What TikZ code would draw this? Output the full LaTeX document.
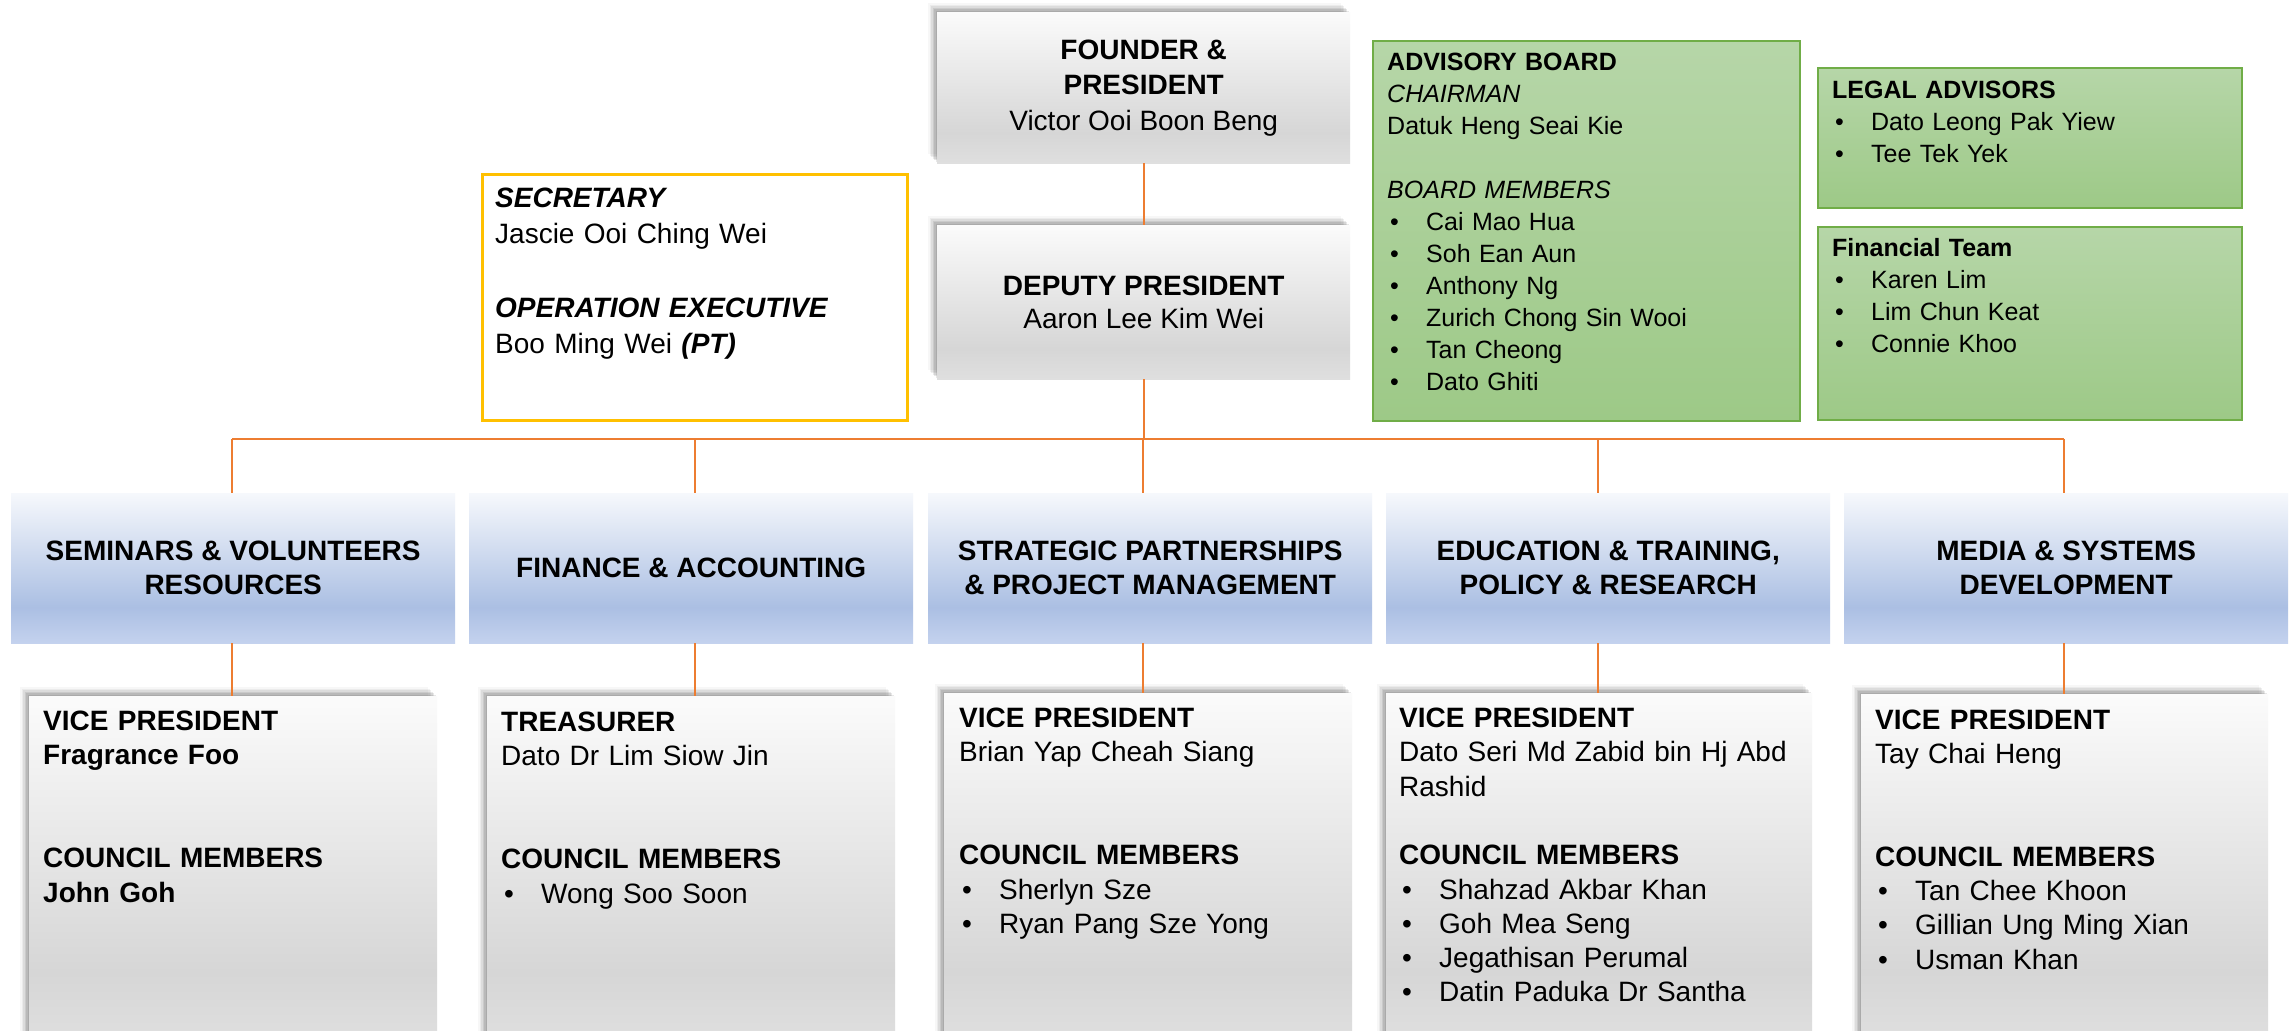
\documentclass[tikz,border=0pt]{standalone}
\usepackage{fontspec}
\setmainfont{Liberation Sans}
\usetikzlibrary{shadows,calc}
\definecolor{gtop}{RGB}{251,251,251}
\definecolor{gmid}{RGB}{214,214,214}
\definecolor{gbot}{RGB}{223,223,223}
\definecolor{btop}{RGB}{246,248,252}
\definecolor{bmid}{RGB}{171,191,227}
\definecolor{bbot}{RGB}{196,210,238}
\definecolor{grtop}{RGB}{182,214,168}
\definecolor{grbot}{RGB}{157,201,135}
\definecolor{grline}{RGB}{112,173,71}
\definecolor{goldline}{RGB}{255,192,0}
\definecolor{connc}{RGB}{237,125,49}
\pgfdeclareverticalshading{grayshade}{100bp}{color(0bp)=(gbot); color(25bp)=(gbot); color(35bp)=(gmid); color(75bp)=(gtop); color(100bp)=(gtop)}
\pgfdeclareverticalshading{blueshade}{100bp}{color(0bp)=(bbot); color(25bp)=(bbot); color(37bp)=(bmid); color(75bp)=(btop); color(100bp)=(btop)}
\newcommand\itembul[1]{\hspace*{3pt}\makebox[37pt][l]{•}#1}
\newcommand\itembulb[1]{\hspace*{3pt}\makebox[36pt][l]{•}#1}
\tikzset{
  softshadow/.style={
    drop shadow={shadow xshift=-1.5pt, shadow yshift=1.5pt, fill=black!80, opacity=0.11},
    drop shadow={shadow xshift=-3pt, shadow yshift=3pt, fill=black!80, opacity=0.11},
    drop shadow={shadow xshift=-4.5pt, shadow yshift=4.5pt, fill=black!80, opacity=0.1},
    drop shadow={shadow xshift=-6pt, shadow yshift=6pt, fill=black!80, opacity=0.08},
    drop shadow={shadow xshift=-7.5pt, shadow yshift=7.5pt, fill=black!80, opacity=0.06},
    drop shadow={shadow xshift=-9pt, shadow yshift=9pt, fill=black!80, opacity=0.04}},
  graybox/.style={shade, shading=grayshade, draw=none, inner sep=0pt, anchor=north west, softshadow},
  deptbox/.style={shade, shading=blueshade, draw=none, inner sep=0pt, anchor=north west,
    minimum width=444pt, minimum height=150pt, align=center,
    font=\fontsize{28pt}{34pt}\selectfont\bfseries},
  greenbox/.style={draw=grline, line width=2pt, top color=grtop, bottom color=grbot,
    inner sep=0pt, anchor=north west},
  secbox/.style={draw=goldline, line width=2.5pt, fill=white, inner sep=0pt, anchor=north west},
  bigtxt/.style={anchor=base west, inner sep=0pt, align=left, text width=410pt,
    font=\fontsize{28pt}{34.3pt}\selectfont},
  smalltxt/.style={anchor=base west, inner sep=0pt, align=left, text width=400pt,
    font=\fontsize{25pt}{32pt}\selectfont},
  conn/.style={draw=connc, line width=2pt}
}
\begin{document}
\begin{tikzpicture}[x=1pt,y=-1pt]
\useasboundingbox (0,0) rectangle (2295,1031);
\clip (0,0) rectangle (2295,1031);
\fill[white] (0,0) rectangle (2295,1031);

% top boxes
\node[graybox, minimum width=413pt, minimum height=151pt, align=center,
  font=\fontsize{28pt}{35.5pt}\selectfont] (founder) at (937,12)
  {\textbf{FOUNDER \&}\\\textbf{PRESIDENT}\\Victor Ooi Boon Beng};
\node[graybox, minimum width=413pt, minimum height=154pt, align=center,
  font=\fontsize{28pt}{32.5pt}\selectfont] (deputy) at (937,225)
  {\textbf{DEPUTY PRESIDENT}\\Aaron Lee Kim Wei};

\node[secbox, minimum width=425pt, minimum height=246pt] (sec) at (481,173) {};
\node[bigtxt, font=\fontsize{28pt}{36.7pt}\selectfont] (sect) at ($(sec.north west)+(14,34)$)
  {\textbf{\textit{SECRETARY}}\\Jascie Ooi Ching Wei\\[36.7pt]\textbf{\textit{OPERATION EXECUTIVE}}\\Boo Ming Wei \textbf{\textit{(PT)}}};

\node[greenbox, minimum width=427pt, minimum height=380pt] (adv) at (1372,40) {};
\node[smalltxt] (advt) at ($(adv.north west)+(15,30)$)
  {\textbf{ADVISORY BOARD}\\\textit{CHAIRMAN}\\Datuk Heng Seai Kie\\[32pt]\textit{BOARD MEMBERS}\\
   \itembulb{Cai Mao Hua}\\\itembulb{Soh Ean Aun}\\\itembulb{Anthony Ng}\\\itembulb{Zurich Chong Sin Wooi}\\\itembulb{Tan Cheong}\\\itembulb{Dato Ghiti}};

\node[greenbox, minimum width=424pt, minimum height=140pt] (legal) at (1817,67) {};
\node[smalltxt] (legalt) at ($(legal.north west)+(15,31)$)
  {\textbf{LEGAL ADVISORS}\\\itembulb{Dato Leong Pak Yiew}\\\itembulb{Tee Tek Yek}};

\node[greenbox, minimum width=424pt, minimum height=193pt] (fin) at (1817,226) {};
\node[smalltxt] (fint) at ($(fin.north west)+(15,30)$)
  {\textbf{Financial Team}\\\itembulb{Karen Lim}\\\itembulb{Lim Chun Keat}\\\itembulb{Connie Khoo}};

% departments
\node[deptbox] (d1) at (11,493) {SEMINARS \& VOLUNTEERS\\RESOURCES};
\node[deptbox] (d2) at (469,493) {FINANCE \& ACCOUNTING};
\node[deptbox] (d3) at (928,493) {STRATEGIC PARTNERSHIPS\\\& PROJECT MANAGEMENT};
\node[deptbox] (d4) at (1386,493) {EDUCATION \& TRAINING,\\POLICY \& RESEARCH};
\node[deptbox] (d5) at (1844,493) {MEDIA \& SYSTEMS\\DEVELOPMENT};

% member boxes
\node[graybox, minimum width=408pt, minimum height=345pt] (m1) at (29,696) {};
\node[graybox, minimum width=408pt, minimum height=345pt] (m2) at (487,696) {};
\node[graybox, minimum width=408pt, minimum height=348pt] (m3) at (944,693) {};
\node[graybox, minimum width=426pt, minimum height=348pt] (m4) at (1386,693) {};
\node[graybox, minimum width=407pt, minimum height=347pt] (m5) at (1861,694) {};

\node[bigtxt, font=\fontsize{28pt}{34.3pt}\selectfont\bfseries] (m1t) at ($(m1.north west)+(14,34.5)$)
  {VICE PRESIDENT\\Fragrance Foo\\[68.6pt]COUNCIL MEMBERS\\John Goh};
\node[bigtxt] (m2t) at ($(m2.north west)+(14,35.5)$)
  {\textbf{TREASURER}\\Dato Dr Lim Siow Jin\\[68.6pt]\textbf{COUNCIL MEMBERS}\\\itembul{Wong Soo Soon}};
\node[bigtxt] (m3t) at ($(m3.north west)+(15,34.5)$)
  {\textbf{VICE PRESIDENT}\\Brian Yap Cheah Siang\\[68.6pt]\textbf{COUNCIL MEMBERS}\\\itembul{Sherlyn Sze}\\\itembul{Ryan Pang Sze Yong}};
\node[bigtxt] (m4t) at ($(m4.north west)+(13,34.5)$)
  {\textbf{VICE PRESIDENT}\\Dato Seri Md Zabid bin Hj Abd\\Rashid\\[34.3pt]\textbf{COUNCIL MEMBERS}\\\itembul{Shahzad Akbar Khan}\\\itembul{Goh Mea Seng}\\\itembul{Jegathisan Perumal}\\\itembul{Datin Paduka Dr Santha}};
\node[bigtxt] (m5t) at ($(m5.north west)+(14,35)$)
  {\textbf{VICE PRESIDENT}\\Tay Chai Heng\\[68.6pt]\textbf{COUNCIL MEMBERS}\\\itembul{Tan Chee Khoon}\\\itembul{Gillian Ung Ming Xian}\\\itembul{Usman Khan}};

% connectors
\coordinate (c1) at (232,439);
\coordinate (c2) at (695,439);
\coordinate (c3) at (1143,439);
\coordinate (c4) at (1598,439);
\coordinate (c5) at (2064,439);
\draw[conn] (founder.south) -- (deputy.north);
\draw[conn] (deputy.south) -- (deputy.south |- c3);
\draw[conn] (c1) -- (c5);
\foreach \i in {1,...,5}{
  \draw[conn] (c\i) -- (c\i |- d\i.north);
  \draw[conn] (c\i |- d\i.south) -- (c\i |- m\i.north);
}
\end{tikzpicture}
\end{document}
